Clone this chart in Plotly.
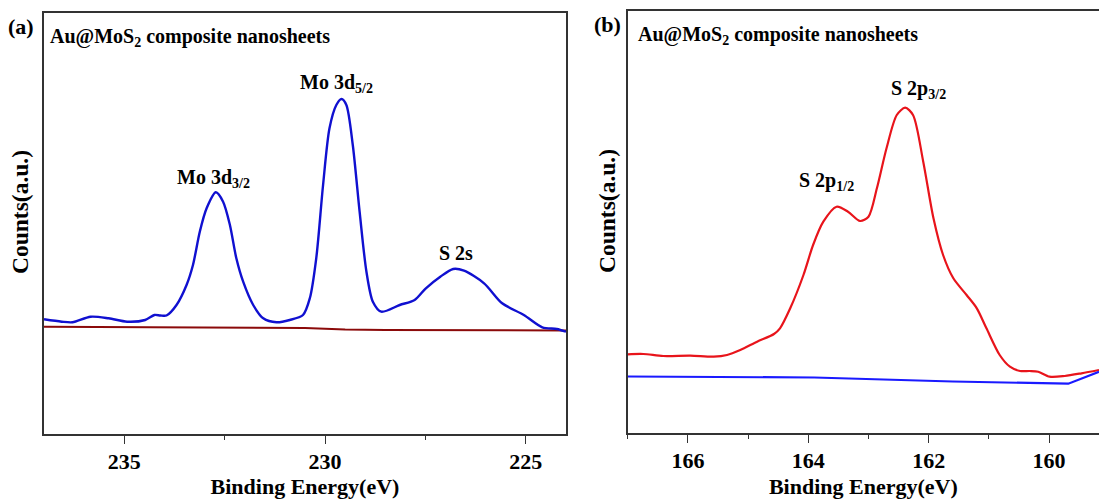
import plotly.graph_objects as go

# Panel (a): Mo 3d / S 2s region (binding energy in eV, counts in arbitrary units)
energy_a = [237.0, 236.56, 236.29, 235.84, 235.39, 234.93, 234.48, 234.25, 234.10, 233.95,
            233.70, 233.45, 233.29, 233.12, 232.95, 232.72, 232.54, 232.37, 232.21, 232.04,
            231.79, 231.54, 231.21, 230.88, 230.55, 230.38, 230.22, 230.05, 229.89, 229.72,
            229.59, 229.47, 229.31, 229.14, 228.97, 228.81, 228.60, 228.14, 227.77, 227.49,
            227.13, 226.81, 226.54, 226.04, 225.59, 225.05, 224.59, 224.23, 224.0]
counts_a = [114.7, 112.3, 111.7, 117.3, 115.7, 112.3, 114.0, 119.0, 118.5, 118.5,
            129.0, 149.0, 169.0, 202.3, 225.7, 241.7, 232.3, 209.0, 175.7, 152.3,
            129.0, 115.7, 111.7, 114.0, 119.0, 135.7, 175.7, 249.0, 305.7, 329.0,
            335.0, 329.0, 289.0, 222.3, 162.3, 132.3, 122.3, 129.0, 134.0, 145.7,
            157.3, 165.0, 163.3, 150.7, 130.7, 119.0, 106.7, 105.0, 102.3]
bg_energy_a = [237.0, 233.0, 230.5, 229.5, 228.5, 224.0]
bg_counts_a = [107.3, 106.5, 106.0, 104.5, 104.0, 103.5]

# Panel (b): S 2p region
energy_b = [167.0, 166.74, 166.41, 165.96, 165.57, 165.35, 165.13, 164.85, 164.57, 164.47,
            164.30, 164.08, 163.92, 163.75, 163.53, 163.34, 163.14, 163.00, 162.86, 162.70,
            162.53, 162.39, 162.26, 162.09, 161.92, 161.76, 161.59, 161.37, 161.20, 161.04,
            160.82, 160.65, 160.48, 160.32, 160.18, 159.99, 159.74, 159.46, 159.17]
counts_b = [78.7, 79.0, 77.0, 77.3, 76.3, 78.0, 83.0, 91.3, 99.0, 104.7,
            124.7, 158.0, 188.0, 211.3, 226.3, 221.3, 212.0, 216.3, 244.7, 284.7,
            318.0, 325.3, 318.0, 271.3, 214.7, 178.0, 154.7, 138.0, 124.7, 104.7,
            78.0, 66.3, 62.0, 62.0, 61.3, 56.3, 57.0, 59.7, 63.0]
bg_energy_b = [167.0, 163.9, 161.6, 160.35, 159.68, 159.17]
bg_counts_b = [56.5, 55.5, 51.5, 49.7, 49.3, 61.3]

xticks_a = [235, 230, 225]
xticks_b = [166, 164, 162, 160]

W, H = 1099, 499
FONT = "Liberation Serif, Times New Roman, serif"

fig = go.Figure()
fig.add_trace(go.Scatter(x=bg_energy_a, y=bg_counts_a, mode="lines",
                         line=dict(color="#8b0a0a", width=2), xaxis="x", yaxis="y"))
fig.add_trace(go.Scatter(x=energy_a, y=counts_a, mode="lines",
                         line=dict(color="#1010d0", width=2.4, shape="spline", smoothing=0.8),
                         xaxis="x", yaxis="y"))
fig.add_trace(go.Scatter(x=energy_b, y=counts_b, mode="lines",
                         line=dict(color="#e8141b", width=2.2, shape="spline", smoothing=0.8),
                         xaxis="x2", yaxis="y2"))
fig.add_trace(go.Scatter(x=bg_energy_b, y=bg_counts_b, mode="lines",
                         line=dict(color="#1a1aff", width=2.2), xaxis="x2", yaxis="y2"))

def px_x(p):
    return p / W

def px_y(p):
    return 1 - p / H

axis_common = dict(showline=True, linecolor="#333333", linewidth=1.6, mirror=True,
                   showgrid=False, zeroline=False, automargin=False)
xcommon = dict(axis_common, ticks="outside", ticklen=8, tickwidth=1.4, tickcolor="#333333",
               ticklabelstandoff=-1,
               tickfont=dict(family=FONT, size=22, color="black", weight="bold"),
               title=dict(text="Binding Energy(eV)", standoff=18,
                          font=dict(family=FONT, size=22, color="black", weight="bold")))
ycommon = dict(axis_common, showticklabels=False, ticks="")

fig.update_layout(
    width=W, height=H, margin=dict(l=0, r=0, t=0, b=0, autoexpand=False),
    paper_bgcolor="white", plot_bgcolor="white", showlegend=False,
    xaxis=dict(xcommon, domain=[px_x(44), px_x(566)], range=[237.0, 224.0],
               tickvals=xticks_a, minor=dict(dtick=2.5, ticks="outside", ticklen=4,
                                             tickcolor="#333333"),
               anchor="y"),
    yaxis=dict(ycommon, domain=[px_y(434), px_y(13)], range=[0, 421], anchor="x"),
    xaxis2=dict(xcommon, domain=[px_x(627.7), px_x(1099)], range=[167.0, 159.17],
                tickvals=xticks_b, minor=dict(dtick=1, ticks="outside", ticklen=4,
                                              tickcolor="#333333"),
                anchor="y2"),
    yaxis2=dict(ycommon, domain=[px_y(433), px_y(11)], range=[0, 422], anchor="x2"),
)

tfont = dict(family=FONT, size=20, color="black", weight="bold")
lfont = dict(family=FONT, size=22, color="black", weight="bold")
yfont = dict(family=FONT, size=23.5, color="black", weight="bold")
ann = [
    dict(text="(a)", x=px_x(21), y=px_y(27), font=lfont),
    dict(text="(b)", x=px_x(607), y=px_y(24), font=lfont),
    dict(text="Au@MoS<sub>2</sub> composite nanosheets", x=px_x(48), y=px_y(38), xanchor="left", font=tfont),
    dict(text="Au@MoS<sub>2</sub> composite nanosheets", x=px_x(636), y=px_y(36), xanchor="left", font=tfont),
    dict(text="Mo 3d<sub>3/2</sub>", x=px_x(213), y=px_y(178), font=tfont),
    dict(text="Mo 3d<sub>5/2</sub>", x=px_x(336), y=px_y(83), font=tfont),
    dict(text="S 2s", x=px_x(456), y=px_y(253), font=tfont),
    dict(text="S 2p<sub>1/2</sub>", x=px_x(826), y=px_y(181), font=tfont),
    dict(text="S 2p<sub>3/2</sub>", x=px_x(918), y=px_y(89), font=tfont),
    dict(text="Counts(a.u.)", x=px_x(20), y=px_y(212), font=yfont, textangle=-90),
    dict(text="Counts(a.u.)", x=px_x(607), y=px_y(211), font=yfont, textangle=-90),
]
for a in ann:
    a.setdefault("xanchor", "center")
    fig.add_annotation(xref="paper", yref="paper", showarrow=False, yanchor="middle", **a)

fig.write_html("out.html", config={"displayModeBar": False},
               post_script="document.body.style.margin='0';document.body.style.overflow='hidden';")
